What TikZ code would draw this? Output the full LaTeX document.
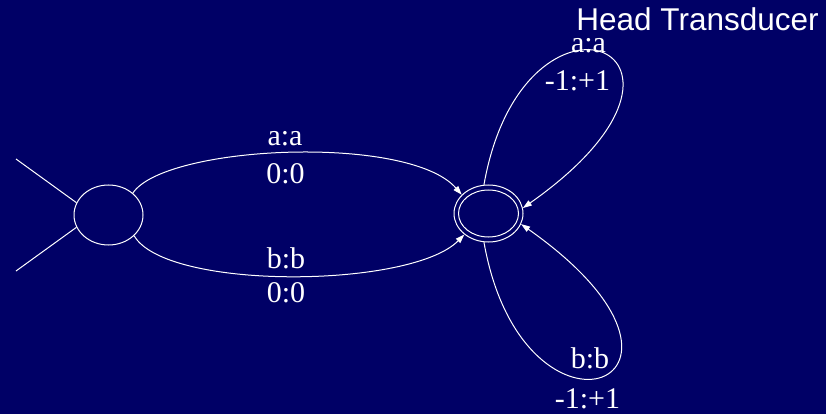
\documentclass[tikz,border=0pt]{standalone}
\usepackage{fontspec}
\usepackage{tikz}
\usetikzlibrary{arrows.meta,shapes.geometric,positioning}
\newfontfamily\serfont{Liberation Serif}
\newfontfamily\titlefont{Liberation Sans}
\definecolor{NavyBg}{RGB}{0,0,102}

\begin{document}
\begin{tikzpicture}[x=1pt,y=-1pt,
	state/.style={ellipse,draw=white,line width=1pt,inner sep=0pt},
	lbl/.style={anchor=base,text=white,inner sep=0pt,font=\serfont\fontsize{30}{36}\selectfont},
	trans/.style={white,line width=1pt,-{Triangle[length=9pt,width=6pt]}}]
	\fill[NavyBg] (0,0) rectangle (826,414);
	\useasboundingbox (0,0) rectangle (826,414);
	% states
	\node[state,minimum width=69pt,minimum height=60pt] (q0) at (108.5,215) {};
	\node[state,minimum width=69pt,minimum height=57pt] (q1) at (488.5,213.5) {};
	\node[state,minimum width=60pt,minimum height=47pt] (q1in) at (q1) {};
	\coordinate (ina) at (16,159);
	\coordinate (inb) at (16,271);
	\draw[white,line width=1pt] (ina) -- (q0.159);
	\draw[white,line width=1pt] (inb) -- (q0.201);
	% transitions
	\draw[trans] (q0.42) .. controls +(32,-48) and +(-53,-61) .. (q1.145);
	\draw[trans] (q0.-39) .. controls +(32,55) and +(-53,54) .. (q1.221);
	\draw[trans] (q1.99) .. controls +(40,-225) and +(223,-157) .. (q1.9);
	\draw[trans] (q1.261) .. controls +(40,225) and +(223,157) .. (q1.-18);
	% labels
	\node[lbl] (aa) at (285,146) {a:a};
	\node[lbl] (aazero) at (285.5,183) {0:0};
	\node[lbl] (bb) at (286,268) {b:b};
	\node[lbl] (bbzero) at (286,302) {0:0};
	\node[lbl] (aaloop) at (588.5,53) {a:a};
	\node[lbl] (aamove) at (577.5,91) {-1:+1};
	\node[lbl] (bbloop) at (590,368) {b:b};
	\node[lbl] (bbmove) at (587.5,408) {-1:+1};
	\node[anchor=base,text=white,inner sep=0pt,font=\titlefont\fontsize{31.5}{36}\selectfont] (title) at (697.5,31) {Head Transducer};
\end{tikzpicture}
\end{document}
